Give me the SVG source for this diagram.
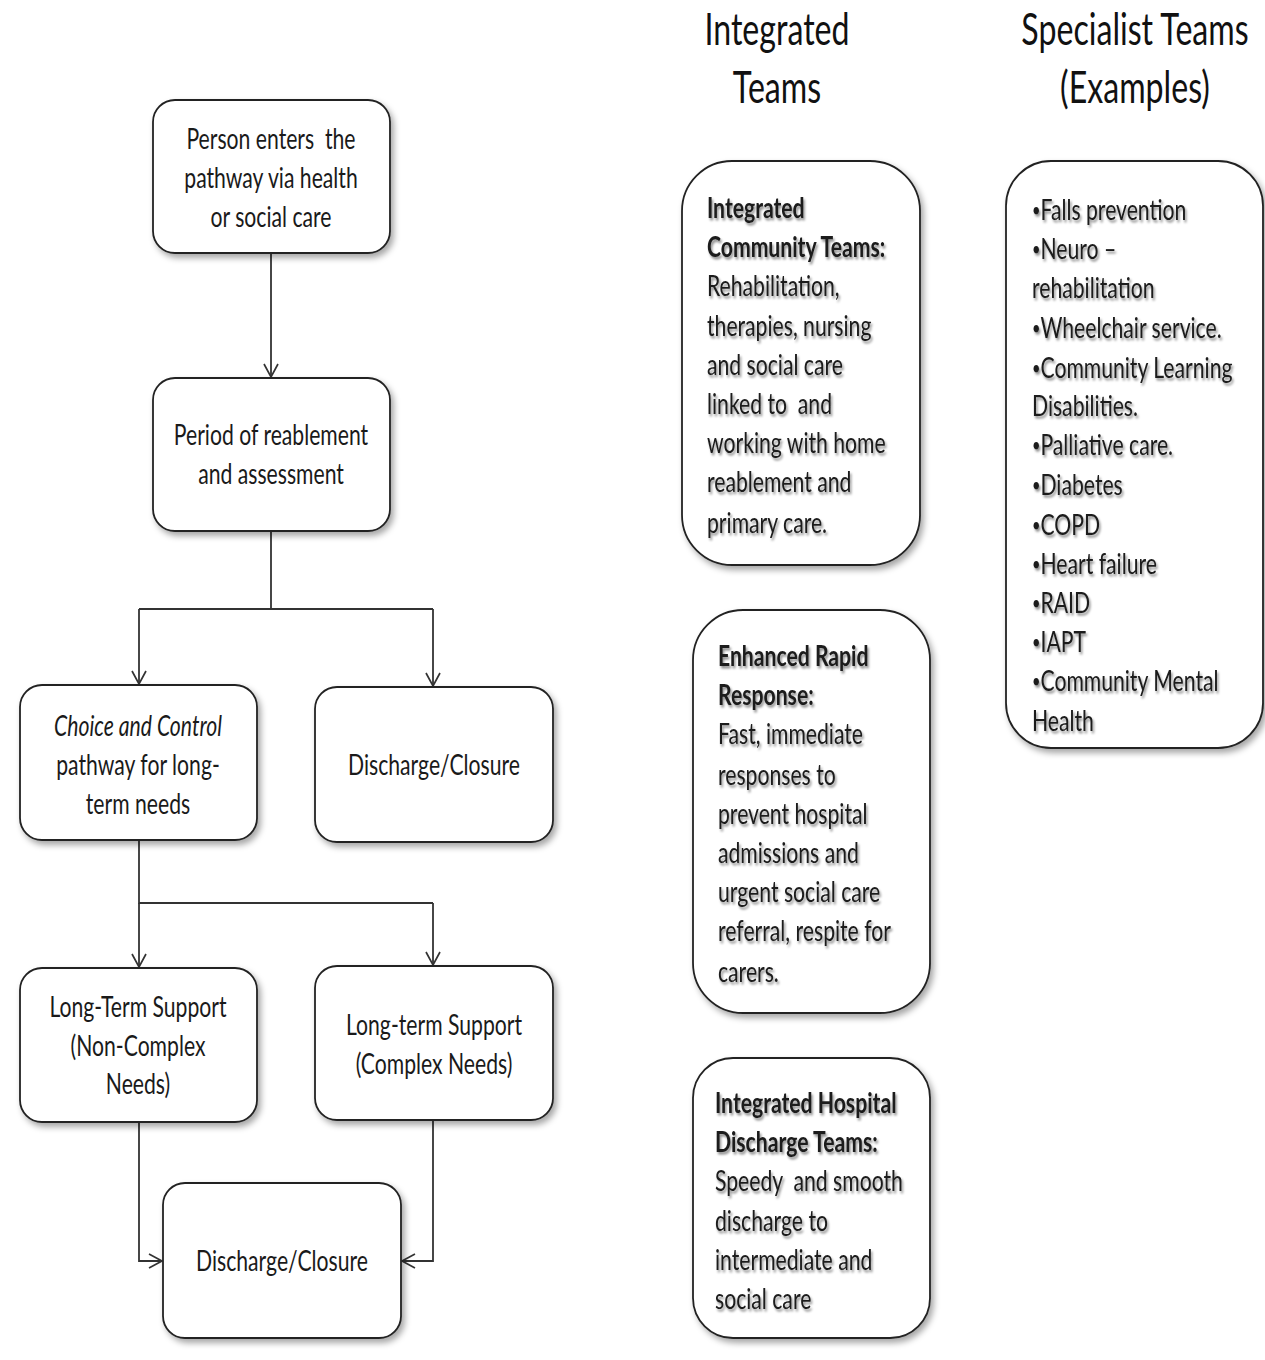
<svg xmlns="http://www.w3.org/2000/svg" width="1265" height="1360" viewBox="0 0 1265 1360">
  <defs>
    <filter id="boxShadow" x="-10%" y="-10%" width="125%" height="125%">
      <feDropShadow dx="3" dy="4" stdDeviation="3" flood-color="#000" flood-opacity="0.35"/>
    </filter>
    <filter id="textShadow" x="-5%" y="-20%" width="115%" height="160%">
      <feDropShadow dx="2" dy="2.5" stdDeviation="1.3" flood-color="#000" flood-opacity="0.45"/>
    </filter>
    <marker id="openArrow" viewBox="-15 -9 18 18" markerWidth="18" markerHeight="18" refX="0" refY="0" orient="auto" markerUnits="userSpaceOnUse">
      <path d="M-13,-7 L0,0 L-13,7" fill="none" stroke="#333" stroke-width="1.7"/>
    </marker>
    <style>
      .box { fill: #fff; stroke: #222; stroke-width: 1.8; filter: url(#boxShadow); }
      .t { font-family: Lato, "Open Sans", "Liberation Sans", sans-serif; font-size: 29px; fill: #1a1a1a; white-space: pre; }
      .c { text-anchor: middle; }
      .b { font-weight: bold; }
      .i { font-style: italic; }
      .dot { font-size: 20px; baseline-shift: 4px; }
      .head { font-family: Lato, "Open Sans", "Liberation Sans", sans-serif; font-size: 44px; fill: #111; text-anchor: middle; }
      .sh { filter: url(#textShadow); }
      .wire { fill: none; stroke: #333; stroke-width: 1.8; marker-end: url(#openArrow); }
      .wire-plain { fill: none; stroke: #333; stroke-width: 1.8; }
    </style>
  </defs>

  <rect width="1265" height="1360" fill="#fff"/>

  <!-- connectors -->
  <g id="connectors">
    <path class="wire" d="M271,253 V377"/>
    <path class="wire-plain" d="M271,531 V609 M139,609 H433"/>
    <path class="wire" d="M139,609 V684"/>
    <path class="wire" d="M433,609 V686"/>
    <path class="wire-plain" d="M139,840 V903 H433"/>
    <path class="wire" d="M139,903 V967"/>
    <path class="wire" d="M433,903 V965"/>
    <path class="wire" d="M139,1122 V1261 H162"/>
    <path class="wire" d="M433,1120 V1261 H402"/>
  </g>

  <!-- flow nodes -->
  <g id="node-enter">
    <rect class="box" x="153" y="100" width="237" height="153" rx="22"/>
    <g transform="translate(271,0) scale(0.73,1)">
      <text class="t c" x="0" y="149">Person enters  the</text>
      <text class="t c" x="0" y="188">pathway via health</text>
      <text class="t c" x="0" y="227">or social care</text>
    </g>
  </g>

  <g id="node-reablement">
    <rect class="box" x="153" y="378" width="237" height="153" rx="22"/>
    <g transform="translate(271,0) scale(0.73,1)">
      <text class="t c" x="0" y="445">Period of reablement</text>
      <text class="t c" x="0" y="484">and assessment</text>
    </g>
  </g>

  <g id="node-choice">
    <rect class="box" x="20" y="685" width="237" height="155" rx="22"/>
    <g transform="translate(138,0) scale(0.73,1)">
      <text class="t c i" x="0" y="736">Choice and Control</text>
      <text class="t c" x="0" y="775">pathway for long-</text>
      <text class="t c" x="0" y="814">term needs</text>
    </g>
  </g>

  <g id="node-discharge-1">
    <rect class="box" x="315" y="687" width="238" height="155" rx="22"/>
    <g transform="translate(434,0) scale(0.73,1)">
      <text class="t c" x="0" y="775">Discharge/Closure</text>
    </g>
  </g>

  <g id="node-lts-noncomplex">
    <rect class="box" x="20" y="968" width="237" height="154" rx="22"/>
    <g transform="translate(138,0) scale(0.73,1)">
      <text class="t c" x="0" y="1017">Long-Term Support</text>
      <text class="t c" x="0" y="1056">(Non-Complex</text>
      <text class="t c" x="0" y="1094">Needs)</text>
    </g>
  </g>

  <g id="node-lts-complex">
    <rect class="box" x="315" y="966" width="238" height="154" rx="22"/>
    <g transform="translate(434,0) scale(0.73,1)">
      <text class="t c" x="0" y="1035">Long-term Support</text>
      <text class="t c" x="0" y="1074">(Complex Needs)</text>
    </g>
  </g>

  <g id="node-discharge-2">
    <rect class="box" x="163" y="1183" width="238" height="155" rx="22"/>
    <g transform="translate(282,0) scale(0.73,1)">
      <text class="t c" x="0" y="1271">Discharge/Closure</text>
    </g>
  </g>

  <!-- column headings -->
  <g id="heading-integrated">
    <g transform="translate(777,0) scale(0.73,1)">
      <text class="head" x="0" y="45">Integrated</text>
      <text class="head" x="0" y="103">Teams</text>
    </g>
  </g>
  <g id="heading-specialist">
    <g transform="translate(1135,0) scale(0.73,1)">
      <text class="head" x="0" y="45">Specialist Teams</text>
      <text class="head" x="0" y="103">(Examples)</text>
    </g>
  </g>

  <!-- integrated team boxes -->
  <g id="node-community">
    <rect class="box" x="682" y="161" width="238" height="404" rx="50"/>
    <g class="sh" transform="translate(707,0) scale(0.73,1)">
      <text class="t b" x="0" y="218">Integrated</text>
      <text class="t b" x="0" y="257">Community Teams:</text>
      <text class="t" x="0" y="296">Rehabilitation,</text>
      <text class="t" x="0" y="336">therapies, nursing</text>
      <text class="t" x="0" y="375">and social care</text>
      <text class="t" x="0" y="414">linked to  and</text>
      <text class="t" x="0" y="453">working with home</text>
      <text class="t" x="0" y="492">reablement and</text>
      <text class="t" x="0" y="533">primary care.</text>
    </g>
  </g>

  <g id="node-rapid">
    <rect class="box" x="693" y="610" width="237" height="403" rx="50"/>
    <g class="sh" transform="translate(718,0) scale(0.73,1)">
      <text class="t b" x="0" y="666">Enhanced Rapid</text>
      <text class="t b" x="0" y="705">Response:</text>
      <text class="t" x="0" y="744">Fast, immediate</text>
      <text class="t" x="0" y="785">responses to</text>
      <text class="t" x="0" y="824">prevent hospital</text>
      <text class="t" x="0" y="863">admissions and</text>
      <text class="t" x="0" y="902">urgent social care</text>
      <text class="t" x="0" y="941">referral, respite for</text>
      <text class="t" x="0" y="982">carers.</text>
    </g>
  </g>

  <g id="node-hospital">
    <rect class="box" x="693" y="1058" width="237" height="280" rx="40"/>
    <g class="sh" transform="translate(715,0) scale(0.73,1)">
      <text class="t b" x="0" y="1113">Integrated Hospital</text>
      <text class="t b" x="0" y="1152">Discharge Teams:</text>
      <text class="t" x="0" y="1191">Speedy  and smooth</text>
      <text class="t" x="0" y="1231">discharge to</text>
      <text class="t" x="0" y="1270">intermediate and</text>
      <text class="t" x="0" y="1309">social care</text>
    </g>
  </g>

  <!-- specialist team examples -->
  <g id="node-specialist">
    <rect class="box" x="1006" y="161" width="257" height="587" rx="45"/>
    <g class="sh" transform="translate(1032,0) scale(0.73,1)">
      <text class="t" x="0" y="220"><tspan class="dot">•</tspan>Falls prevention</text>
      <text class="t" x="0" y="259"><tspan class="dot">•</tspan>Neuro –</text>
      <text class="t" x="0" y="298">rehabilitation</text>
      <text class="t" x="0" y="338"><tspan class="dot">•</tspan>Wheelchair service.</text>
      <text class="t" x="0" y="378"><tspan class="dot">•</tspan>Community Learning</text>
      <text class="t" x="0" y="416">Disabilities.</text>
      <text class="t" x="0" y="455"><tspan class="dot">•</tspan>Palliative care.</text>
      <text class="t" x="0" y="495"><tspan class="dot">•</tspan>Diabetes</text>
      <text class="t" x="0" y="535"><tspan class="dot">•</tspan>COPD</text>
      <text class="t" x="0" y="574"><tspan class="dot">•</tspan>Heart failure</text>
      <text class="t" x="0" y="613"><tspan class="dot">•</tspan>RAID</text>
      <text class="t" x="0" y="652"><tspan class="dot">•</tspan>IAPT</text>
      <text class="t" x="0" y="691"><tspan class="dot">•</tspan>Community Mental</text>
      <text class="t" x="0" y="731">Health</text>
    </g>
  </g>
</svg>
